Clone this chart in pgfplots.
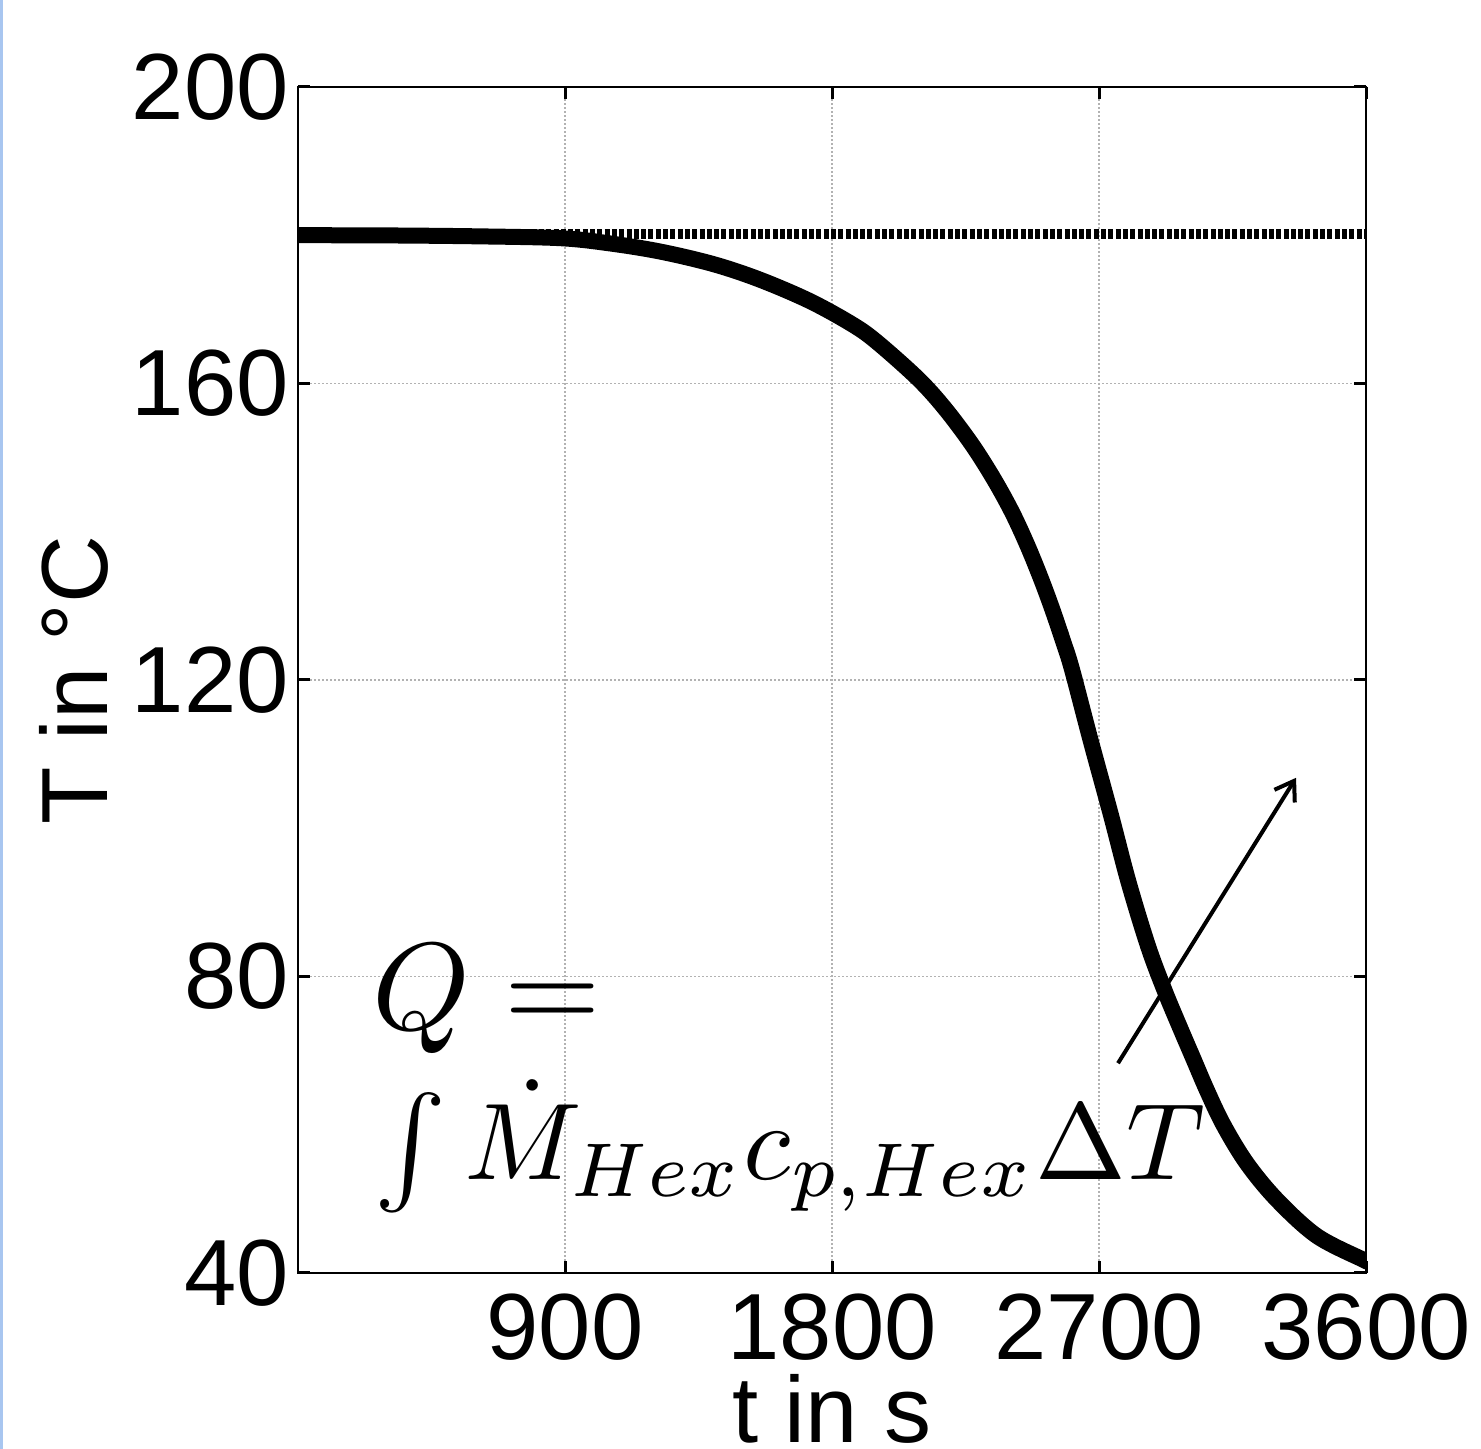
\RequirePackage{fix-cm}
\documentclass[border=0pt]{standalone}
\usepackage{amsmath}
\usepackage{fontspec}
\setmainfont{Liberation Sans}
\usepackage{pgfplots}
\pgfplotsset{compat=1.18}
\usetikzlibrary{arrows.meta}
\definecolor{edgeblue}{HTML}{A8C6F0}
\begin{document}
\begin{tikzpicture}[x=0.5bp,y=0.5bp]
\path[use as bounding box] (0,0) rectangle (1481,1449);
\fill[edgeblue] (0,0) rectangle (2.5,1449);
\begin{axis}[
  at={(149bp,88bp)}, anchor=south west,
  scale only axis, width=534bp, height=593bp,
  xmin=0, xmax=3600, ymin=40, ymax=200,
  xtick={900,1800,2700,3600}, ytick={40,80,120,160,200},
  scaled x ticks=false,
  /pgf/number format/1000 sep={},
  /pgf/number format/assume math mode=true,
  tick align=inside, major tick length=6bp,
  every tick/.style={black, line width=1.5bp},
  axis line style={black, line width=1bp},
  grid=major,
  major grid style={gray!60, line width=0.6bp, dash pattern=on 1bp off 1bp},
  ticklabel style={font=\fontsize{47bp}{50bp}\selectfont},
  xticklabel style={inner sep=0pt, anchor=north, yshift=-10bp},
  yticklabel style={inner sep=0pt, anchor=east, xshift=-4.5bp},
]
\addplot[black, line width=8bp, smooth, tension=0.55] coordinates {
(0,180.0) (300,179.97) (600,179.85) (883,179.6) (1050,178.9) (1220,177.8)
(1400,176.1) (1557,174.0) (1726,171.1) (1871,167.9) (1954,165.5) (2091,160.6)
(2181,156.6) (2271,151.8) (2344,147.2) (2406,142.7) (2457,138.3) (2502,133.9)
(2541,129.7) (2580,125.1) (2609,121.4) (2672,111.8) (2740,101.8) (2799,92.8)
(2866,84.0) (2922,78.0) (2973,73.1) (3018,68.9) (3063,64.7) (3119,60.0)
(3198,54.8) (3299,49.9) (3434,45.0) (3590,41.8) (3600,41.65)
};
\addplot[black, line width=5bp, dash pattern=on 2.5bp off 1.15bp] coordinates {(0,180.2) (3600,180.2)};
\draw[black, line width=2bp, -{Straight Barb[length=9bp, width=12bp, line width=2bp]}]
  (axis cs:2764,68.3) -- (axis cs:3364,106.8);
\end{axis}
\node[rotate=90, anchor=base, inner sep=0pt, font=\fontsize{47bp}{50bp}\selectfont] at (107,769) {T in °C};
\node[anchor=base, inner sep=0pt, font=\fontsize{47bp}{50bp}\selectfont] at (832,6) {t in s};
\node[anchor=base west, inner sep=0pt, scale=6.2, font=\fontsize{10bp}{12bp}\selectfont] at (370,419) {$Q=$};
\node[anchor=base west, inner sep=0pt, scale=5.45, font=\fontsize{10bp}{12bp}\selectfont] at (372,269) {$\int\dot{M}_{Hex}c_{p,Hex}\Delta T$};
\end{tikzpicture}
\end{document}
